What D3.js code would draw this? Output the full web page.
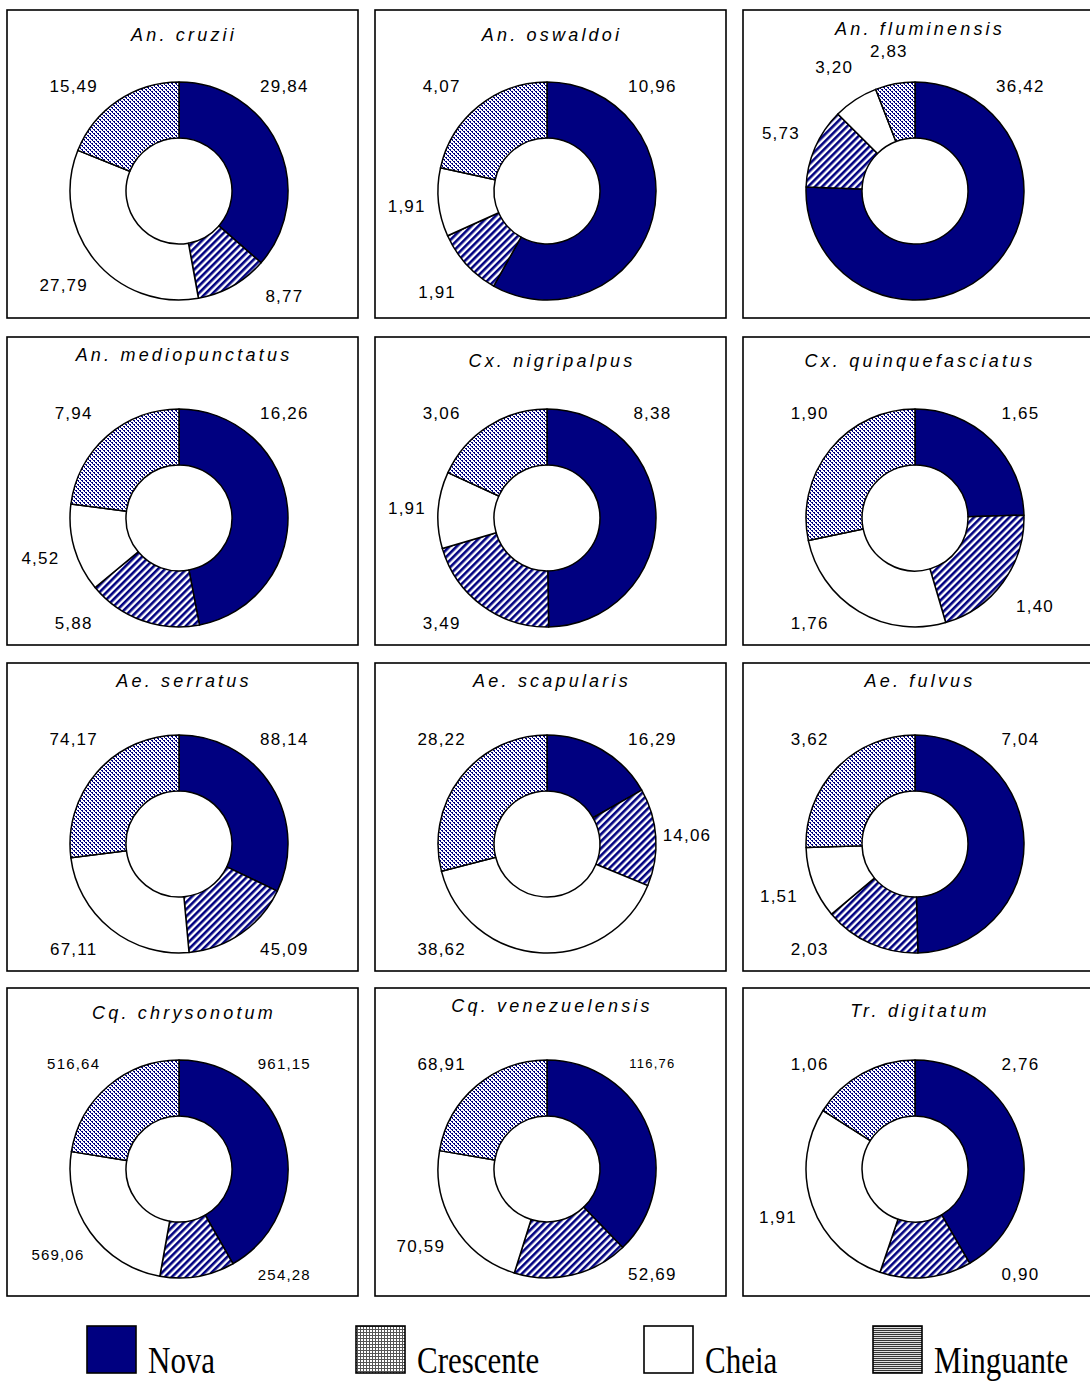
<!DOCTYPE html>
<html>
<head>
<meta charset="utf-8">
<script src="https://cdn.jsdelivr.net/npm/d3@7"></script>
<style>
  body { margin: 0; background: #fff; }
  svg { display: block; }
</style>
</head>
<body>
<div id="chart"></div>
<script>
// species (one donut each), read row by row
var species = ["An. cruzii", "An. oswaldoi", "An. fluminensis",
               "An. mediopunctatus", "Cx. nigripalpus", "Cx. quinquefasciatus",
               "Ae. serratus", "Ae. scapularis", "Ae. fulvus",
               "Cq. chrysonotum", "Cq. venezuelensis", "Tr. digitatum"];

// slices go clockwise from 12 o'clock in this order
var phases = ["Nova", "Minguante", "Cheia", "Crescente"];

var nova      = [29.84, 10.96, 36.42, 16.26, 8.38, 1.65, 88.14, 16.29, 7.04, 961.15, 116.76, 2.76];
var minguante = [8.77, 1.91, 5.73, 5.88, 3.49, 1.40, 45.09, 14.06, 2.03, 254.28, 52.69, 0.90];
var cheia     = [27.79, 1.91, 3.20, 4.52, 1.91, 1.76, 67.11, 38.62, 1.51, 569.06, 70.59, 1.91];
var crescente = [15.49, 4.07, 2.83, 7.94, 3.06, 1.90, 74.17, 28.22, 3.62, 516.64, 68.91, 1.06];

var legendLabels = ["Nova", "Crescente", "Cheia", "Minguante"];

var width = 1090,
    height = 1381;

var colX = [7, 375, 743],
    rowY = [10, 337, 663, 988],
    boxW = 351,
    boxH = 308;

var outerR = 109,
    innerR = 53;

// title baseline offset inside each box
var titleDy = [31, 31, 25, 24, 30, 30, 24, 24, 24, 31, 24, 29];
// a few charts use smaller label text
var labelSize = { 9: [15, 15, 15, 15], 10: [13, 17, 17, 17] };

var navy = "#000080";
var deg = Math.PI / 180;
var fmt = function (v) { return d3.format(".2f")(v).replace(".", ","); };

var svg = d3.select("#chart").append("svg")
    .attr("width", width)
    .attr("height", height);

svg.append("rect")
    .attr("width", width)
    .attr("height", height)
    .attr("fill", "#fff");

var defs = svg.append("defs");

// dotted fill (Crescente)
var pDot = defs.append("pattern")
    .attr("id", "dots")
    .attr("patternUnits", "userSpaceOnUse")
    .attr("width", 4).attr("height", 4);
pDot.append("rect").attr("width", 4).attr("height", 4).attr("fill", "#fff");
[[0, 0, 2, 1], [2, 2, 2, 1], [1, 1, 1, 1], [3, 3, 1, 1]].forEach(function (r) {
    pDot.append("rect").attr("x", r[0]).attr("y", r[1]).attr("width", r[2]).attr("height", r[3]).attr("fill", navy);
});

// diagonal hatch (Minguante)
var pHatch = defs.append("pattern")
    .attr("id", "hatch")
    .attr("patternUnits", "userSpaceOnUse")
    .attr("width", 5).attr("height", 5)
    .attr("patternTransform", "rotate(45)");
pHatch.append("rect").attr("width", 5).attr("height", 5).attr("fill", "#fff");
pHatch.append("rect").attr("width", 2.6).attr("height", 5).attr("fill", navy);

// legend swatches are drawn in grey
var pGrid = defs.append("pattern")
    .attr("id", "grid")
    .attr("patternUnits", "userSpaceOnUse")
    .attr("width", 3).attr("height", 3);
pGrid.append("rect").attr("width", 3).attr("height", 3).attr("fill", "#fff");
pGrid.append("rect").attr("width", 3).attr("height", 1).attr("fill", "#555");
pGrid.append("rect").attr("width", 1).attr("height", 3).attr("fill", "#555");

var pLines = defs.append("pattern")
    .attr("id", "lines")
    .attr("patternUnits", "userSpaceOnUse")
    .attr("width", 2).attr("height", 2);
pLines.append("rect").attr("width", 2).attr("height", 2).attr("fill", "#ddd");
pLines.append("rect").attr("width", 2).attr("height", 1).attr("fill", "#333");

var fillFor = {
    "Nova": navy,
    "Minguante": "url(#hatch)",
    "Cheia": "#fff",
    "Crescente": "url(#dots)"
};
var legendFill = {
    "Nova": navy,
    "Minguante": "url(#lines)",
    "Cheia": "#fff",
    "Crescente": "url(#grid)"
};

var pie = d3.pie().sort(null).value(function (d) { return d.value; });
var arc = d3.arc().innerRadius(innerR).outerRadius(outerR);

// first and last labels go to the upper diagonals when the slice is wide enough;
// the others sit mid-slice but get pushed off the bottom onto a lower diagonal
function labelAngle(a, i, n) {
    var mid = (a.startAngle + a.endAngle) / 2;
    if (i === 0 && a.endAngle > 50 * deg) return 45 * deg;
    if (i === n - 1 && a.startAngle < 305 * deg) return 315 * deg;
    if (Math.abs(mid - Math.PI) < 40 * deg) {
        return mid < Math.PI + 0.5 * deg ? 135 * deg : 225 * deg;
    }
    return mid;
}

species.forEach(function (name, k) {
    var bx = colX[k % 3],
        by = rowY[Math.floor(k / 3)];
    var values = [nova[k], minguante[k], cheia[k], crescente[k]];
    var data = phases.map(function (p, j) { return { phase: p, value: values[j] }; });

    var g = svg.append("g").attr("transform", "translate(" + bx + "," + by + ")");

    g.append("rect")
        .attr("width", boxW)
        .attr("height", boxH)
        .attr("fill", "#fff")
        .attr("stroke", "#000")
        .attr("stroke-width", 1.6);

    g.append("text")
        .attr("x", boxW / 2 + 1.5)
        .attr("y", titleDy[k])
        .attr("text-anchor", "middle")
        .style("font-family", "'Liberation Sans', Arial, sans-serif")
        .style("font-style", "italic")
        .style("font-size", "18px")
        .style("letter-spacing", "3.2px")
        .attr("fill", "#000")
        .text(name);

    var cx = 172, cy = 181;
    var donut = g.append("g").attr("transform", "translate(" + cx + "," + cy + ")");
    var arcs = pie(data);

    donut.selectAll("path")
        .data(arcs)
        .enter().append("path")
        .attr("d", arc)
        .attr("fill", function (d) { return fillFor[d.data.phase]; })
        .attr("stroke", "#000")
        .attr("stroke-width", 1.5)
        .attr("stroke-linejoin", "round");

    donut.selectAll("text")
        .data(arcs)
        .enter().append("text")
        .each(function (d, i) {
            var a = labelAngle(d, i, arcs.length);
            var dist = outerR + 30 + 10 * Math.abs(Math.sin(2 * a));
            d3.select(this)
                .attr("x", dist * Math.sin(a))
                .attr("y", -dist * Math.cos(a))
                .style("font-size", (labelSize[k] ? labelSize[k][i] : 17) + "px");
        })
        .attr("dy", "0.36em")
        .attr("text-anchor", "middle")
        .style("font-family", "'Liberation Sans', Arial, sans-serif")
        .style("letter-spacing", "1.2px")
        .attr("fill", "#000")
        .text(function (d) { return fmt(d.value); });
});

// legend
var legendX = [87, 356, 644, 873];
var legend = svg.append("g");

legendLabels.forEach(function (name, i) {
    legend.append("rect")
        .attr("x", legendX[i])
        .attr("y", 1326)
        .attr("width", 49)
        .attr("height", 47)
        .attr("fill", legendFill[name])
        .attr("stroke", "#000")
        .attr("stroke-width", 1.6);

    legend.append("text")
        .attr("transform", "translate(" + (legendX[i] + 61) + ",1373) scale(1,1.25)")
        .style("font-family", "'Liberation Serif', 'Times New Roman', serif")
        .style("font-size", "31px")
        .attr("fill", "#000")
        .text(name);
});
</script>
</body>
</html>
